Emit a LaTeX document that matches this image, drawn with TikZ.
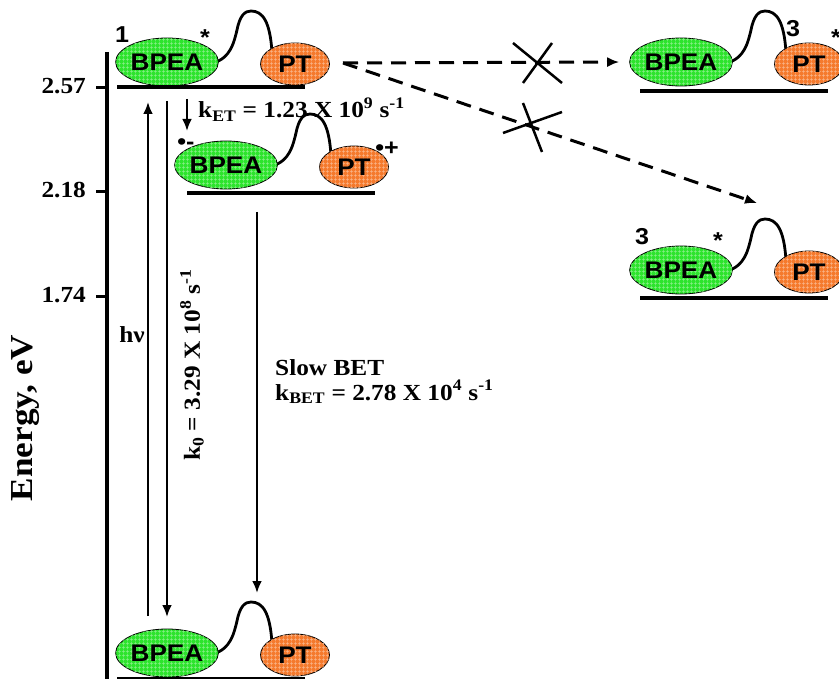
\documentclass[tikz,border=0pt]{standalone}
\usepackage{fontspec}
\setmainfont{Liberation Serif}[FakeStretch=1.1]
\newfontfamily\arialfont{Liberation Sans}[FakeStretch=1.09]
\usepackage{tikz}
\usetikzlibrary{shapes.geometric,arrows.meta,patterns.meta}
\definecolor{bpeagreen}{RGB}{45,228,45}
\definecolor{ptorange}{RGB}{245,122,45}

\tikzset{
  lbl/.style={font=\fontsize{23}{27}\selectfont\bfseries, inner sep=0pt},
  albl/.style={font=\arialfont\bfseries\fontsize{23}{26}\selectfont, inner sep=0pt},
  bpea/.style={ellipse, draw, line width=0.8pt, fill=bpeagreen, minimum width=100pt, minimum height=48pt, inner sep=0pt,
    font=\arialfont\bfseries\fontsize{24}{26}\selectfont,
    postaction={pattern={Hatch[angle=0,distance=4pt,line width=0.4pt]}, pattern color=white!45!bpeagreen}},
  ptnode/.style={ellipse, draw, line width=0.8pt, fill=ptorange, minimum width=69pt, minimum height=42pt, inner sep=0pt,
    font=\arialfont\bfseries\fontsize{24}{26}\selectfont,
    postaction={pattern={Hatch[angle=0,distance=4pt,line width=0.4pt]}, pattern color=white!45!ptorange}},
  linker/.style={line width=2.8pt},
  level/.style={line width=4.5pt},
  arr/.style={line width=2.6pt, -{Latex[length=12pt,width=10pt]}},
  dasharr/.style={line width=3pt, dash pattern=on 15pt off 9pt, -{Latex[length=12pt,width=10pt]}},
  cross/.style={line width=2.5pt}
}

\begin{document}
\begin{tikzpicture}[x=1pt,y=-1pt]
  \useasboundingbox (0,0) rectangle (839,679);
  \clip (0,0) rectangle (839,679);
  % energy axis
  \draw[line width=4pt] (107,52) -- (107,679);
  \foreach \v/\y/\i in {2.57/88/a,2.18/192/b,1.74/297/c}{
    \draw[line width=3pt] (96,\y) -- (107,\y);
    \node[lbl, anchor=east] (tick-\i) at (86,\y-2) {\v};
  }
  \node[lbl, font=\fontsize{32}{36}\selectfont\bfseries, rotate=90] (energy) at (26,418) {Energy, eV};
  % molecules and their levels
  \foreach \n/\x/\y/\lft/\rgt/\d in {s1/167/62/-50/138/25, ct/226/165/-39/149/28,
      tpt/681/62/-41/147/29, tbp/681/270/-41/147/28, s0/167/653/-50/138/26}{
    \begin{scope}[shift={(\x,\y)}]
      \draw[linker] (46,1) .. controls (64,-4) and (67,-20) .. (70,-32)
        .. controls (73,-47) and (78,-51) .. (84,-51)
        .. controls (96,-51) and (103,-40) .. (105,-10);
      \node[bpea] (bpea-\n) at (0,0) {BPEA};
      \node[ptnode] (pt-\n) at (128,2) {PT};
      \coordinate (lv-\n-a) at (\lft,\d);
      \coordinate (lv-\n-b) at (\rgt,\d);
      \draw[level] (lv-\n-a) -- (lv-\n-b);
    \end{scope}
  }
  % spin and charge marks
  \node[albl, anchor=base] (m-s1) at (122,43) {1};
  \node[albl, anchor=base] (st-s1) at (205,46) {*};
  \node[albl, anchor=base] (m-tpt) at (793,37) {3};
  \node[albl, anchor=base] (st-tpt) at (836,46) {*};
  \node[albl, anchor=base] (m-tbp) at (642,245) {3};
  \node[albl, anchor=base] (st-tbp) at (718,249) {*};
  \node[albl, anchor=base] (an) at (186,150) {•-};
  \node[albl, anchor=base] (cat) at (387,156) {•+};
  % transitions
  \coordinate (hv-a) at (148,616);
  \coordinate (hv-b) at (148,102);
  \draw[arr] (hv-a) -- (hv-b);
  \coordinate (k0-a) at (167,101);
  \coordinate (k0-b) at (167,617);
  \draw[arr] (k0-a) -- (k0-b);
  \coordinate (et-a) at (187,99);
  \coordinate (et-b) at (187,131);
  \draw[arr] (et-a) -- (et-b);
  \coordinate (bet-a) at (257,212);
  \coordinate (bet-b) at (257,593);
  \draw[arr] (bet-a) -- (bet-b);
  \node[lbl, anchor=base] (hv) at (132,343) {hν};
  \node[lbl, rotate=90] (k0) at (192,365) {k\textsubscript{0} = 3.29 X 10\textsuperscript{8} s\textsuperscript{-1}};
  \node[lbl, anchor=base west] (ket) at (198,118) {k\textsubscript{ET} = 1.23 X 10\textsuperscript{9} s\textsuperscript{-1}};
  \node[lbl, anchor=base west] (slow) at (275,376) {Slow BET};
  \node[lbl, anchor=base west] (kbet) at (275,400) {k\textsubscript{BET} = 2.78 X 10\textsuperscript{4} s\textsuperscript{-1}};
  % blocked triplet pathways
  \coordinate (tt) at (343,63);
  \coordinate (tbp-in) at (757,203);
  \draw[dasharr] (tt) -- ([xshift=-10pt]bpea-tpt.west);
  \draw[dasharr] (tt) -- (tbp-in);
  \draw[cross] (513,43) -- (562,83);
  \draw[cross] (552,43) -- (523,83);
  \draw[cross] (503,133) -- (562,112);
  \draw[cross] (523,103) -- (542,152);
\end{tikzpicture}
\end{document}
